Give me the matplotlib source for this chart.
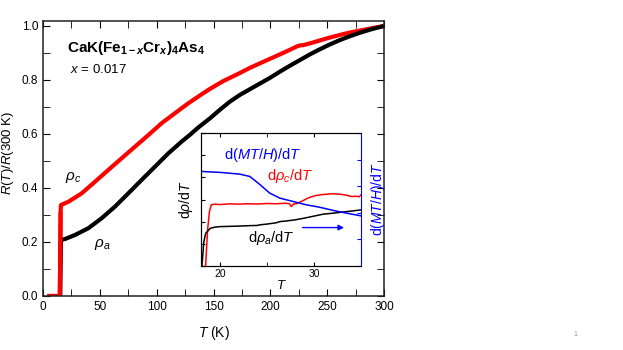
import numpy as np
import matplotlib.pyplot as plt
from matplotlib.ticker import MultipleLocator

plt.rcParams['font.family'] = ['Liberation Sans', 'DejaVu Sans']
plt.rcParams['mathtext.fontset'] = 'custom'
plt.rcParams['mathtext.rm'] = 'Liberation Sans'
plt.rcParams['mathtext.it'] = 'Liberation Sans:italic'
plt.rcParams['mathtext.bf'] = 'Liberation Sans:bold'
plt.rcParams['mathtext.bfit'] = 'Liberation Sans:bold:italic'

# main panel: R(T)/R(300 K)
T_c = [3.8, 10, 14.8, 15.2, 15.5, 15.8, 22.3, 34, 45.7, 57.5, 69.2, 80.9, 92.7, 104.4, 116.1, 127.9,
       141, 146.9, 158.6, 164.5, 173.3, 182.1, 191, 200, 208.5, 217.3, 223.2, 226, 229, 236, 249.6,
       261.3, 267.2, 276, 284.8, 292, 300]
R_c = [0, 0, 0, 0.15, 0.31, 0.337, 0.349, 0.38, 0.423, 0.467, 0.51, 0.553, 0.596, 0.64, 0.677, 0.714,
       0.751, 0.767, 0.796, 0.808, 0.826, 0.845, 0.862, 0.879, 0.895, 0.912, 0.924, 0.928, 0.929, 0.937, 0.954,
       0.967, 0.973, 0.981, 0.988, 0.994, 1.0]
T_a = [15.2, 15.6, 15.8, 20, 28.2, 39.9, 51.6, 63.3, 75, 86.8, 98.5, 110.2, 122, 129.3, 136, 146.9,
       155.7, 164.5, 173.3, 182.1, 190.9, 199.7, 208.5, 217.3, 226.1, 234.9, 243.7, 252.5, 261.3, 270,
       278.9, 289, 300]
R_a = [0, 0.17, 0.207, 0.212, 0.226, 0.251, 0.288, 0.331, 0.38, 0.43, 0.479, 0.528, 0.572, 0.597, 0.622, 0.658,
       0.69, 0.72, 0.745, 0.766, 0.787, 0.808, 0.831, 0.853, 0.874, 0.895, 0.914, 0.932, 0.948, 0.962,
       0.975, 0.988, 1.0]

# inset: derivatives (arb. units)
Ti_c = [18.45, 18.7, 18.9, 19.1, 19.5, 20, 21, 22, 23, 24, 25, 26, 27, 27.4, 27.6, 27.8, 28.2, 28.8,
        29.5, 30.2, 31, 32, 33, 33.6, 34, 34.5, 34.8, 35]
dRc = [-0.05, 0.27, 0.41, 0.46, 0.465, 0.462, 0.467, 0.465, 0.468, 0.466, 0.47, 0.468, 0.472, 0.468,
       0.447, 0.465, 0.47, 0.49, 0.515, 0.53, 0.538, 0.543, 0.538, 0.53, 0.522, 0.525, 0.52, 0.535]
Ti_a = [18.0, 18.1, 18.3, 18.5, 19, 19.5, 20, 21, 22, 23, 24, 24.3, 25, 26, 26.4, 27, 28, 29, 30,
        31, 32, 33, 34, 35]
dRa = [-0.05, 0.0, 0.18, 0.246, 0.284, 0.292, 0.296, 0.298, 0.3, 0.303, 0.305, 0.31, 0.315, 0.325,
       0.334, 0.338, 0.347, 0.36, 0.375, 0.39, 0.397, 0.405, 0.413, 0.422]
Ti_m = [18, 20, 22.1, 23.2, 24.3, 25.3, 26.4, 27.8, 29.2, 30.6, 32.1, 33.5, 35]
dMT = [0.711, 0.704, 0.691, 0.673, 0.61, 0.548, 0.51, 0.485, 0.46, 0.442, 0.417, 0.397, 0.377]

fig = plt.figure(figsize=(6.23, 3.5), dpi=100)
ax = fig.add_axes([0.069, 0.1543, 0.5474, 0.7866])
ax.plot(T_c, R_c, color='#ff0000', lw=3, solid_capstyle='butt')
ax.plot(T_a, R_a, color='black', lw=3, solid_capstyle='butt')
ax.plot(T_c[:5], R_c[:5], color='#ff0000', lw=3, solid_capstyle='butt')
ax.set_xlim(0, 300)
ax.set_ylim(0, 1.0196)
ax.xaxis.set_major_locator(MultipleLocator(50))
ax.xaxis.set_minor_locator(MultipleLocator(25))
ax.yaxis.set_major_locator(MultipleLocator(0.2))
ax.yaxis.set_minor_locator(MultipleLocator(0.1))
ax.yaxis.set_major_formatter(plt.FormatStrFormatter('%.1f'))
ax.tick_params(which='both', direction='in', top=True, right=True, labelsize=8.5, length=5)
for s in ax.spines.values():
    s.set_linewidth(1.1)
    s.set_color('#222222')
ax.set_xlabel(r'$T$ (K)', fontsize=10, labelpad=8)
ax.set_ylabel(r'$R$($T$)/$R$(300 K)', fontsize=9.5)
ax.yaxis.set_label_coords(-0.078, 0.52)

ax.text(21.5, 0.917, r'CaK(Fe$_{\mathbf{1-}\mathbfit{x}}$Cr$_{\mathbfit{x}}$)$_{\mathbf{4}}$As$_{\mathbf{4}}$',
        fontsize=11, fontweight='bold', va='center')
ax.text(23.5, 0.84, r'$x$ = 0.017', fontsize=9.5, va='center')
ax.text(19, 0.437, r'$\rho_c$', fontsize=11, va='center')
ax.text(45, 0.189, r'$\rho_a$', fontsize=11, va='center')

# inset
ins = fig.add_axes([0.3226, 0.24, 0.2568, 0.38])
ins.plot(Ti_c, dRc, color='#ff0000', lw=1.1)
ins.plot(Ti_a, dRa, color='black', lw=1.1)
ins.set_xlim(18, 35)
ins.set_ylim(0, 1)
ins.xaxis.set_major_locator(MultipleLocator(10))
ins.xaxis.set_minor_locator(MultipleLocator(5))
ins.yaxis.set_major_locator(MultipleLocator(1 / 6))
ins.set_yticklabels([])
ins.tick_params(which='both', direction='in', top=True, right=False, labelsize=7.5, length=3, pad=2)
ins.set_xlabel(r'$T$', fontsize=9.5, labelpad=0)
ins.set_ylabel(r'd$\rho$/d$T$', fontsize=10, labelpad=2)
ins.spines['right'].set_visible(False)

tw = ins.twinx()
tw.plot(Ti_m, dMT, color='#0000ff', lw=1.1)
tw.set_ylim(0, 1)
tw.yaxis.set_major_locator(MultipleLocator(0.2))
tw.set_yticklabels([])
tw.tick_params(axis='y', direction='in', colors='#0000ff', length=3)
tw.spines['right'].set_color('#0000ff')
tw.set_ylabel(r'd($MT$/$H$)/d$T$', color='#0000ff', fontsize=10, labelpad=2)
tw.annotate('', xy=(33.5, 0.289), xytext=(28.5, 0.289),
            arrowprops=dict(arrowstyle='-|>', color='#0000ff', lw=1.0, mutation_scale=8))

ins.text(20.4, 0.837, r'd($MT$/$H$)/d$T$', color='#0000ff', fontsize=10.5, va='center')
ins.text(25.0, 0.673, r'd$\rho_c$/d$T$', color='#ff0000', fontsize=10.5, va='center')
ins.text(23.0, 0.21, r'd$\rho_a$/d$T$', color='black', fontsize=10.5, va='center')

fig.text(0.923, 0.043, '1', fontsize=5, color='#999999', ha='center', va='center')

fig.savefig('out.png', dpi=100)
